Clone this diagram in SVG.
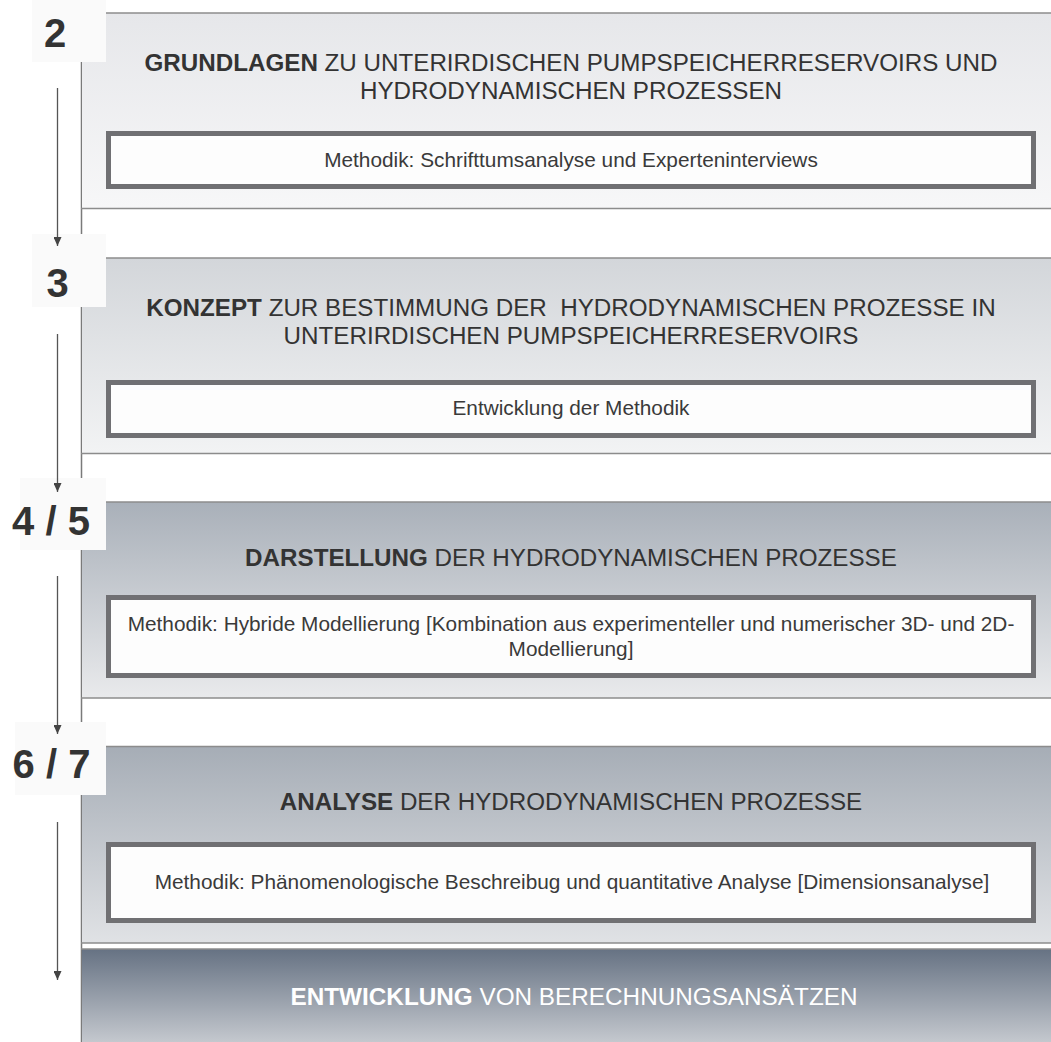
<svg xmlns="http://www.w3.org/2000/svg" width="1051" height="1042" viewBox="0 0 1051 1042">
<defs>
<linearGradient id="g1" x1="0" y1="0" x2="0" y2="1"><stop offset="0" stop-color="#e6e7ea"/><stop offset="1" stop-color="#f7f7f8"/></linearGradient>
<linearGradient id="g2" x1="0" y1="0" x2="0" y2="1"><stop offset="0" stop-color="#d3d6da"/><stop offset="1" stop-color="#f2f3f4"/></linearGradient>
<linearGradient id="g3" x1="0" y1="0" x2="0" y2="1"><stop offset="0" stop-color="#a9b0b9"/><stop offset="1" stop-color="#e9eaec"/></linearGradient>
<linearGradient id="g4" x1="0" y1="0" x2="0" y2="1"><stop offset="0" stop-color="#a6adb6"/><stop offset="1" stop-color="#e0e2e5"/></linearGradient>
<linearGradient id="g5" x1="0" y1="0" x2="0" y2="1"><stop offset="0" stop-color="#667283"/><stop offset="1" stop-color="#c4c8ce"/></linearGradient>
<marker id="ah" markerWidth="9" markerHeight="8" refX="9" refY="4" orient="auto" markerUnits="userSpaceOnUse"><path d="M0,0 L9,4 L0,8 Z" fill="#444"/></marker>
<style>
.band{stroke:none}
.bl{stroke:#8c8c8c;stroke-width:1.5;fill:none}
.ib{fill:#fdfdfd;stroke:#707073;stroke-width:5}
.t{font-family:"Liberation Sans",Arial,sans-serif;font-size:24.2px;fill:#333;text-anchor:middle;white-space:pre}
.t5{font-family:"Liberation Sans",Arial,sans-serif;font-size:24.3px;fill:#fff;text-anchor:middle}
.b{font-weight:bold}
.i{font-family:"Liberation Sans",Arial,sans-serif;font-size:20.8px;fill:#3a3a3a;text-anchor:middle}
.nb{fill:#fafafa}
.n{font-family:"Liberation Sans",Arial,sans-serif;font-size:40px;font-weight:bold;fill:#333;text-anchor:middle}
.ar{stroke:#555;stroke-width:1.3;fill:none}
</style>
</defs>
<rect width="1051" height="1042" fill="#fff"/>
<line x1="81.5" y1="0" x2="81.5" y2="1042" stroke="#7a7a7a" stroke-width="1.5"/>

<g id="band1">
<rect class="band" x="82" y="13" width="969" height="195" fill="url(#g1)"/>
<line class="bl" x1="81" y1="13" x2="1051" y2="13"/>
<line class="bl" x1="81" y1="208.5" x2="1051" y2="208.5"/>
<text class="t" x="571" y="70.5"><tspan class="b">GRUNDLAGEN</tspan> ZU UNTERIRDISCHEN PUMPSPEICHERRESERVOIRS UND</text>
<text class="t" x="571" y="99">HYDRODYNAMISCHEN PROZESSEN</text>
<rect class="ib" x="108.5" y="133.5" width="925" height="53"/>
<text class="i" x="571" y="167">Methodik: Schrifttumsanalyse und Experteninterviews</text>
</g>

<g id="band2">
<rect class="band" x="82" y="258" width="969" height="195" fill="url(#g2)"/>
<line class="bl" x1="81" y1="258" x2="1051" y2="258"/>
<line class="bl" x1="81" y1="453.5" x2="1051" y2="453.5"/>
<text class="t" x="571" y="315.5" xml:space="preserve"><tspan class="b">KONZEPT</tspan> ZUR BESTIMMUNG DER  HYDRODYNAMISCHEN PROZESSE IN</text>
<text class="t" x="571" y="343.5">UNTERIRDISCHEN PUMPSPEICHERRESERVOIRS</text>
<rect class="ib" x="108.5" y="382.5" width="925" height="53"/>
<text class="i" x="571" y="415">Entwicklung der Methodik</text>
</g>

<g id="band3">
<rect class="band" x="82" y="502" width="969" height="196" fill="url(#g3)"/>
<line class="bl" x1="81" y1="502" x2="1051" y2="502"/>
<line class="bl" x1="81" y1="698" x2="1051" y2="698"/>
<text class="t" x="571" y="565.5"><tspan class="b">DARSTELLUNG</tspan> DER HYDRODYNAMISCHEN PROZESSE</text>
<rect class="ib" x="108.5" y="597.5" width="925" height="78"/>
<text class="i" x="571" y="631">Methodik: Hybride Modellierung [Kombination aus experimenteller und numerischer 3D- und 2D-</text>
<text class="i" x="571" y="656">Modellierung]</text>
</g>

<g id="band4">
<rect class="band" x="82" y="746.5" width="969" height="196.5" fill="url(#g4)"/>
<line class="bl" x1="81" y1="746.5" x2="1051" y2="746.5"/>
<line class="bl" x1="81" y1="943" x2="1051" y2="943"/>
<text class="t" x="571" y="809.5"><tspan class="b">ANALYSE</tspan> DER HYDRODYNAMISCHEN PROZESSE</text>
<rect class="ib" x="108.5" y="844.5" width="925" height="76"/>
<text class="i" x="572" y="889">Methodik: Phänomenologische Beschreibug und quantitative Analyse [Dimensionsanalyse]</text>
</g>

<g id="band5">
<rect class="band" x="82" y="949" width="969" height="93" fill="url(#g5)"/>
<line class="bl" x1="81" y1="949" x2="1051" y2="949"/>
<text class="t5" x="574" y="1005"><tspan class="b">ENTWICKLUNG</tspan> VON BERECHNUNGSANSÄTZEN</text>
</g>

<g id="num2"><rect class="nb" x="32" y="0" width="74" height="62"/><text class="n" x="55" y="47">2</text></g>
<g id="num3"><rect class="nb" x="32" y="234" width="74" height="73"/><text class="n" x="57.5" y="297">3</text></g>
<g id="num45"><rect class="nb" x="20" y="478" width="86" height="72"/><text class="n" x="51" y="535">4 / 5</text></g>
<g id="num67"><rect class="nb" x="15" y="722" width="91" height="73"/><text class="n" x="51.5" y="778">6 / 7</text></g>

<g id="connectors">
<line class="ar" x1="57.5" y1="88" x2="57.5" y2="246" marker-end="url(#ah)"/>
<line class="ar" x1="57.5" y1="334" x2="57.5" y2="492" marker-end="url(#ah)"/>
<line class="ar" x1="57.5" y1="576" x2="57.5" y2="734" marker-end="url(#ah)"/>
<line class="ar" x1="57.5" y1="822" x2="57.5" y2="980" marker-end="url(#ah)"/>
</g>
</svg>
